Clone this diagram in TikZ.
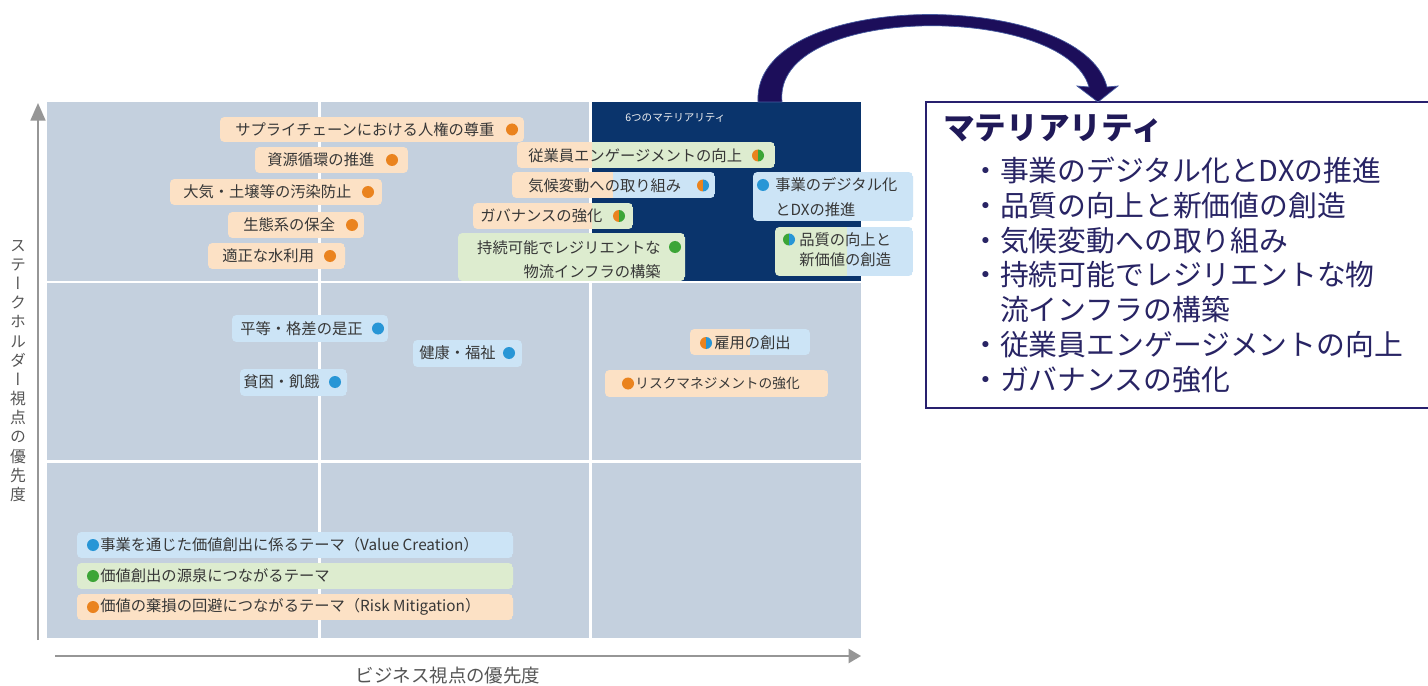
\documentclass[tikz,border=0pt]{standalone}
\usepackage{fontspec}
\usetikzlibrary{arrows.meta}
\newfontfamily\jp{Noto Sans CJK JP}
\newfontfamily\jpv{Noto Sans CJK JP}[RawFeature=+vert]
\definecolor{bgcell}{RGB}{196,208,222}
\definecolor{navy}{RGB}{10,52,108}
\definecolor{peach}{RGB}{252,225,197}
\definecolor{lblue}{RGB}{204,228,246}
\definecolor{lgreen}{RGB}{221,236,207}
\definecolor{dorange}{RGB}{234,131,30}
\definecolor{dblue}{RGB}{40,150,214}
\definecolor{dgreen}{RGB}{60,165,55}
\definecolor{txt}{RGB}{55,55,55}
\definecolor{axisgray}{RGB}{150,150,150}
\definecolor{axtxt}{RGB}{85,85,85}
\definecolor{boxline}{RGB}{40,32,110}
\definecolor{boxtxt}{RGB}{40,36,100}
\definecolor{arrowfill}{RGB}{28,14,90}
\definecolor{arrowedge}{RGB}{70,90,160}
\newcommand\labbox[7]{%
  \begin{scope}
    \clip[rounded corners=2.5pt] (#1,#2) rectangle (#3,#4);
    \fill[#5] (#1,#2) rectangle (#7,#4);
    \fill[#6] (#7,#2) rectangle (#3,#4);
  \end{scope}}
\newcommand\halfdot[4]{%
  \fill[#3] (#1,#2) -- ++(90:6) arc[start angle=90,end angle=270,radius=6] -- cycle;
  \fill[#4] (#1,#2) -- ++(-90:6) arc[start angle=-90,end angle=90,radius=6] -- cycle;}
\begin{document}
\begin{tikzpicture}[x=0.02cm,y=-0.02cm,
  lbl/.style={inner sep=0pt,anchor=west,text=txt,font=\jp\fontsize{8.7}{11}\selectfont},
  axlbl/.style={inner sep=0pt,text=axtxt},
  axisline/.style={axisgray,line width=1.1pt}]
\useasboundingbox (0,0) rectangle (1428,686);
\fill[white] (0,0) rectangle (1428,686);
% plot area
\fill[bgcell] (47,102) rectangle (861,638);
\fill[navy] (592,102) rectangle (861,281);
\draw[white,line width=1.7pt] (319.5,102) -- (319.5,638) (590.5,102) -- (590.5,638)
  (47,282) -- (861,282) (47,461.5) -- (861,461.5);
\node[inner sep=0pt,anchor=west,text=white!90!gray,font=\jp\fontsize{6}{7}\selectfont] (cap) at (625,118) {6つのマテリアリティ};
% axes
\coordinate (yb) at (38,640); \coordinate (yt) at (38,103);
\coordinate (xl) at (55,656); \coordinate (xr) at (861,656);
\draw[axisline,-{Triangle[width=8.5pt,length=10pt]}] (yb) -- (yt);
\draw[axisline,-{Triangle[width=8pt,length=7pt]}] (xl) -- (xr);
\node[axlbl,align=center,font=\jpv\fontsize{9}{10.9}\selectfont] (ylab) at (18,371)
  {ス\\テ\\ー\\ク\\ホ\\ル\\ダ\\ー\\視\\点\\の\\優\\先\\度};
\node[axlbl,font=\jp\fontsize{10.5}{12}\selectfont] (xlab) at (448,676) {ビジネス視点の優先度};
% top-left labels (orange)
\labbox{220}{117}{524}{142}{peach}{peach}{524}
\node[lbl] (l1) at (235,129.5) {サプライチェーンにおける人権の尊重};
\halfdot{512}{129.5}{dorange}{dorange}
\labbox{255}{147}{408}{173}{peach}{peach}{408}
\node[lbl] (l2) at (267,160) {資源循環の推進};
\halfdot{392}{160}{dorange}{dorange}
\labbox{170}{179}{382}{205}{peach}{peach}{382}
\node[lbl] (l3) at (183,192) {大気・土壌等の汚染防止};
\halfdot{368}{192}{dorange}{dorange}
\labbox{228}{212}{364}{238}{peach}{peach}{364}
\node[lbl] (l4) at (243,225) {生態系の保全};
\halfdot{352}{225}{dorange}{dorange}
\labbox{208}{243}{345}{269}{peach}{peach}{345}
\node[lbl] (l5) at (222,256) {適正な水利用};
\halfdot{330}{256}{dorange}{dorange}
% top-middle labels
\labbox{517}{142}{775}{168}{peach}{lgreen}{592}
\node[lbl] (l6) at (528,155.5) {従業員エンゲージメントの向上};
\halfdot{758}{155.5}{dorange}{dgreen}
\labbox{512}{172}{715}{198}{peach}{lblue}{613}
\node[lbl] (l7) at (528,185.5) {気候変動への取り組み};
\halfdot{703}{185.5}{dorange}{dblue}
\labbox{473}{203}{633}{229}{peach}{lgreen}{592}
\node[lbl] (l8) at (480,216) {ガバナンスの強化};
\halfdot{619}{216}{dorange}{dgreen}
\labbox{458}{233}{685}{281}{lgreen}{lgreen}{685}
\node[lbl,anchor=east,align=right,font=\jp\fontsize{8.7}{13.6}\selectfont] (l9) at (661,260) {持続可能でレジリエントな\\物流インフラの構築};
\halfdot{675}{247}{dgreen}{dgreen}
\labbox{753}{172}{913}{221}{lblue}{lblue}{913}
\node[lbl,align=left,font=\jp\fontsize{8.7}{14.2}\selectfont] (l10) at (775,197.5) {事業のデジタル化\\とDXの推進};
\halfdot{763}{185}{dblue}{dblue}
\labbox{775}{227}{913}{276}{lgreen}{lblue}{847}
\node[lbl,align=left,font=\jp\fontsize{8.7}{11.6}\selectfont] (l11) at (799,250) {品質の向上と\\新価値の創造};
\halfdot{789}{239.5}{dgreen}{dblue}
% middle labels
\labbox{232}{315}{388}{342}{lblue}{lblue}{388}
\node[lbl] (l12) at (240,328.5) {平等・格差の是正};
\halfdot{378}{328.5}{dblue}{dblue}
\labbox{413}{340}{522}{367}{lblue}{lblue}{522}
\node[lbl] (l13) at (419,353) {健康・福祉};
\halfdot{509}{353}{dblue}{dblue}
\labbox{240}{369}{347}{396}{lblue}{lblue}{347}
\node[lbl] (l14) at (243,382) {貧困・飢餓};
\halfdot{335}{382}{dblue}{dblue}
\labbox{690}{329}{810}{355}{peach}{lblue}{750}
\node[lbl] (l15) at (714,342.5) {雇用の創出};
\halfdot{706}{343}{dorange}{dblue}
\labbox{605}{370}{828}{397}{peach}{peach}{828}
\node[lbl,font=\jp\fontsize{7.8}{9}\selectfont] (l16) at (635,383.5) {リスクマネジメントの強化};
\halfdot{628}{383.5}{dorange}{dorange}
% legend
\labbox{77}{532}{513}{558}{lblue}{lblue}{513}
\halfdot{93}{545}{dblue}{dblue}
\node[lbl] (g1) at (100,545) {事業を通じた価値創出に係るテーマ（Value Creation）};
\labbox{77}{563}{513}{589}{lgreen}{lgreen}{513}
\halfdot{93}{576}{dgreen}{dgreen}
\node[lbl] (g2) at (100,576) {価値創出の源泉につながるテーマ};
\labbox{77}{594}{513}{620}{peach}{peach}{513}
\halfdot{93}{607}{dorange}{dorange}
\node[lbl] (g3) at (100,607) {価値の棄損の回避につながるテーマ（Risk Mitigation）};
% materiality box
\draw[boxline,line width=1.2pt] (1440,102) -- (926,102) -- (926,408) -- (1440,408);
\node[inner sep=0pt,anchor=west,text=boxline!80!black,font=\jp\bfseries\fontsize{18}{20}\selectfont] (mt) at (943,129) {マテリアリティ};
\node[inner sep=0pt,anchor=west,align=left,text=boxtxt,font=\jp\fontsize{16.4}{19.8}\selectfont] (ml) at (971,275)
  {・事業のデジタル化とDXの推進\\・品質の向上と新価値の創造\\・気候変動への取り組み\\・持続可能でレジリエントな物\\　流インフラの構築\\・従業員エンゲージメントの向上\\・ガバナンスの強化};
% curved arrow from the dark region to the box
\coordinate (aS1) at (758,102); \coordinate (aS2) at (782,102);
\coordinate (aE1) at (1107,87); \coordinate (aE2) at (1089,87);
\coordinate (aT) at (1098,102);
\fill[arrowfill,draw=arrowedge,line width=0.4pt]
  (aS1) .. controls (752,-12) and (1082,-12) .. (aE1)
  -- (1118,86) -- (aT) -- (1077,86) -- (aE2)
  .. controls (1065,3) and (772,3) .. (aS2) -- cycle;
\end{tikzpicture}
\end{document}
